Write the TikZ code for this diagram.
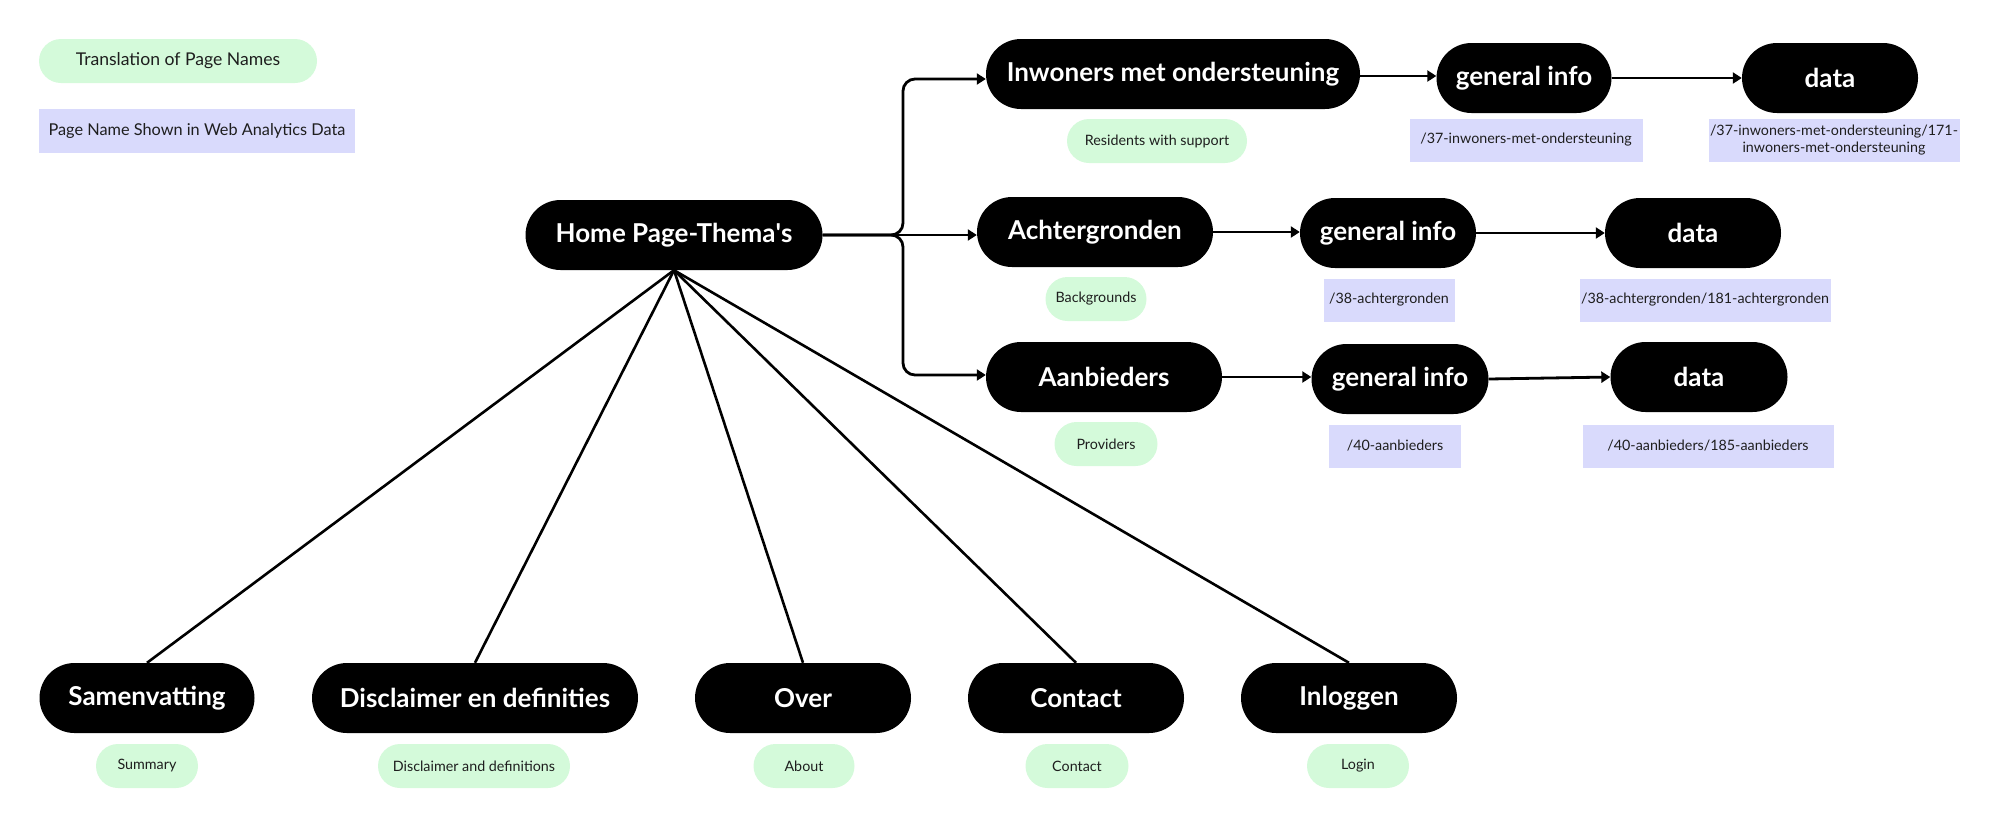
\documentclass[tikz,border=0pt]{standalone}
\usepackage{fontspec}
\setmainfont{Lato}
\usetikzlibrary{arrows.meta}
\definecolor{mint}{RGB}{212,250,218}
\definecolor{lav}{RGB}{217,218,252}
\definecolor{txt}{RGB}{30,30,30}
\newcommand{\bigf}{\fontsize{26}{29}\selectfont\bfseries}
\newcommand{\smf}{\fontsize{14.3}{17}\selectfont}
\newcommand{\legf}{\fontsize{17.6}{21}\selectfont}
\newcommand{\legpf}{\fontsize{16.3}{20}\selectfont}
\tikzset{
  blk/.style={fill=black, text=white, rounded corners=35pt, minimum height=70pt, inner sep=0pt, font=\bigf},
  grn/.style={fill=mint, text=txt, rounded corners=22pt, minimum height=44pt, inner sep=0pt, font=\smf},
  pur/.style={fill=lav, text=txt, minimum height=43pt, inner sep=0pt, font=\smf, align=center},
  arr/.style={line width=2.8pt, -{Triangle[length=9pt,width=11pt]}},
  ln/.style={line width=2.6pt}
}
\begin{document}
\begin{tikzpicture}[x=1pt,y=-1pt]
\useasboundingbox (0,0) rectangle (1999,828);
% legend
\node[grn, minimum width=278pt, font=\legf] (lg) at (178,61) {Translation of Page Names};
\node[pur, minimum width=316pt, minimum height=44pt, font=\legpf] (lp) at (197,131) {Page Name Shown in Web Analytics Data};
% home
\node[blk, minimum width=297pt] (home) at (674,235) {Home Page-Thema\textquotesingle s};
% row 1
\node[blk, minimum width=374pt] (inw) at (1173,74) {Inwoners met ondersteuning};
\node[grn, minimum width=180pt] (res) at (1157,141) {Residents with support};
\node[blk, minimum width=175pt] (g1) at (1524,78) {general info};
\node[pur, minimum width=233pt] (p1) at (1526,140) {/37-inwoners-met-ondersteuning};
\node[blk, minimum width=176pt] (d1) at (1830,78) {data};
\node[pur, minimum width=251pt] (q1) at (1834,140) {/37-inwoners-met-ondersteuning/171-\\inwoners-met-ondersteuning};
% row 2
\node[blk, minimum width=236pt] (ach) at (1095,232) {Achtergronden};
\node[grn, minimum width=101pt] (bac) at (1096,299) {Backgrounds};
\node[blk, minimum width=176pt] (g2) at (1388,233) {general info};
\node[pur, minimum width=131pt] (p2) at (1389,300) {/38-achtergronden};
\node[blk, minimum width=176pt] (d2) at (1693,233) {data};
\node[pur, minimum width=251pt] (q2) at (1705,300) {/38-achtergronden/181-achtergronden};
% row 3
\node[blk, minimum width=236pt] (aan) at (1104,377) {Aanbieders};
\node[grn, minimum width=103pt] (pro) at (1106,444) {Providers};
\node[blk, minimum width=177pt] (g3) at (1400,379) {general info};
\node[pur, minimum width=132pt] (p3) at (1395,446) {/40-aanbieders};
\node[blk, minimum width=177pt] (d3) at (1699,377) {data};
\node[pur, minimum width=251pt] (q3) at (1708,446) {/40-aanbieders/185-aanbieders};
% bottom row
\node[blk, minimum width=215pt] (sam) at (147,698) {Samenvatting};
\node[grn, minimum width=102pt] (sum) at (147,766) {Summary};
\node[blk, minimum width=326pt] (dis) at (475,698) {Disclaimer en definities};
\node[grn, minimum width=192pt] (dad) at (474,766) {Disclaimer and definitions};
\node[blk, minimum width=216pt] (ove) at (803,698) {Over};
\node[grn, minimum width=101pt] (abo) at (804,766) {About};
\node[blk, minimum width=216pt] (con) at (1076,698) {Contact};
\node[grn, minimum width=103pt] (cgr) at (1077,766) {Contact};
\node[blk, minimum width=216pt] (inl) at (1349,698) {Inloggen};
\node[grn, minimum width=102pt] (log) at (1358,766) {Login};
% branch from home
\coordinate (br) at (903,235);
\draw[arr] (home.east) -- (ach.west |- home.east);
\draw[arr, rounded corners=12pt] (home.east) -- (br) |- ([yshift=-5pt]inw.west);
\draw[arr, rounded corners=12pt] (home.east) -- (br) |- ([yshift=2pt]aan.west);
% chains
\draw[arr] ([yshift=-2pt]inw.east) -- ([yshift=-2pt]inw.east -| g1.west);
\draw[arr] (g1.east) -- (d1.west);
\draw[arr] (ach.east) -- (ach.east -| g2.west);
\draw[arr] (g2.east) -- (d2.west);
\draw[arr] (aan.east) -- (aan.east -| g3.west);
\draw[arr] (g3.east) -- (d3.west);
% lines to bottom
\draw[ln] (home.south) -- (sam.north);
\draw[ln] (home.south) -- (dis.north);
\draw[ln] (home.south) -- (ove.north);
\draw[ln] (home.south) -- (con.north);
\draw[ln] (home.south) -- (inl.north);
\end{tikzpicture}
\end{document}
